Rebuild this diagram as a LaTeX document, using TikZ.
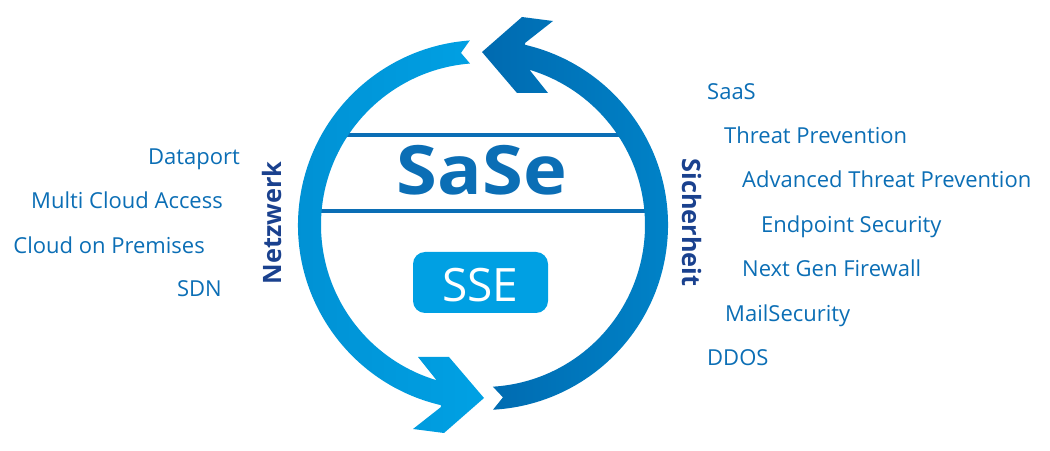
\documentclass[tikz,border=0pt]{standalone}
\usepackage{fontspec}
\setmainfont{Open Sans}
\definecolor{itemblue}{HTML}{0B6EB5}
\definecolor{navy}{HTML}{1A418E}
\definecolor{ssebox}{HTML}{00A0E3}
\definecolor{darkarcA}{HTML}{006AB0}
\definecolor{darkarcB}{HTML}{0084C9}
\definecolor{lightarcA}{HTML}{0090D3}
\definecolor{lightarcB}{HTML}{00A1E4}
\tikzset{
  item/.style={text=itemblue, font=\fontsize{22}{26}\selectfont, inner sep=0pt},
  side/.style={text=navy, font=\fontsize{25.3}{30}\selectfont\bfseries, inner sep=0pt},
  divider/.style={draw=itemblue, line width=4pt},
}
\begin{document}
\begin{tikzpicture}[x=1pt,y=1pt]
\useasboundingbox (0,0) rectangle (1050,450);
\coordinate (c) at (483,225);
% divider lines
\coordinate (l1a) at (336,315);
\coordinate (l1b) at (630,315);
\coordinate (l2a) at (312,239);
\coordinate (l2b) at (654,239);
\draw[divider] (l1a) -- (l1b);
\draw[divider] (l2a) -- (l2b);
% right (dark) arc with head at top
\begin{scope}[shift={(c)}]
\shade[left color=darkarcA, right color=darkarcB]
  (80:185) arc[start angle=80, end angle=-86.9, radius=185]
  -- (-83.4:173.5) -- (-86.5:162)
  arc[start angle=-86.5, end angle=80, radius=162] -- cycle
  (-1,173) -- (39,208) -- (70,204) -- (42,182) -- (45,157) -- (65,132) -- (34,132) -- cycle;
% left (light) arc with head at bottom
\shade[left color=lightarcA, right color=lightarcB]
  (260:185) arc[start angle=260, end angle=94.1, radius=185]
  -- (97.3:173.5) -- (94.6:162)
  arc[start angle=94.6, end angle=260, radius=162] -- cycle
  (1,-173) -- (-39,-208) -- (-70,-204) -- (-42,-182) -- (-45,-157) -- (-65,-132) -- (-34,-132) -- cycle;
\end{scope}
% center texts
\node[text=itemblue, font=\fontsize{68}{70}\selectfont\bfseries, anchor=base, inner sep=0pt] (sase) at (482,255) {\scalebox{1.09}[1]{SaSe}};
\node[fill=ssebox, rounded corners=12pt, minimum width=135pt, minimum height=61pt, inner sep=0pt] (ssebox) at (480.5,167.5) {};
\node[text=white, font=\fontsize{46}{50}\selectfont, anchor=base, inner sep=0pt] (sse) at (480.5,148) {SSE};
% side labels
\node[side, rotate=90] (netz) at (272.5,227) {Netzwerk};
\node[side, rotate=-90] (sich) at (691.5,227.5) {Sicherheit};
% left list
\node[item, anchor=base east] (dataport) at (240,285) {Dataport};
\node[item, anchor=base east] (multi) at (223,241) {Multi Cloud Access};
\node[item, anchor=base east] (cloud) at (205,196) {Cloud on Premises};
\node[item, anchor=base east] (sdn) at (222,153) {SDN};
% right list
\node[item, anchor=base west] (saas) at (707,350) {SaaS};
\node[item, anchor=base west] (threat) at (724,306) {Threat Prevention};
\node[item, anchor=base west] (adv) at (742,262) {Advanced Threat Prevention};
\node[item, anchor=base west] (endpoint) at (761,217) {Endpoint Security};
\node[item, anchor=base west] (ngfw) at (742,173) {Next Gen Firewall};
\node[item, anchor=base west] (mail) at (725,128) {MailSecurity};
\node[item, anchor=base west] (ddos) at (707,84) {DDOS};
\end{tikzpicture}
\end{document}
